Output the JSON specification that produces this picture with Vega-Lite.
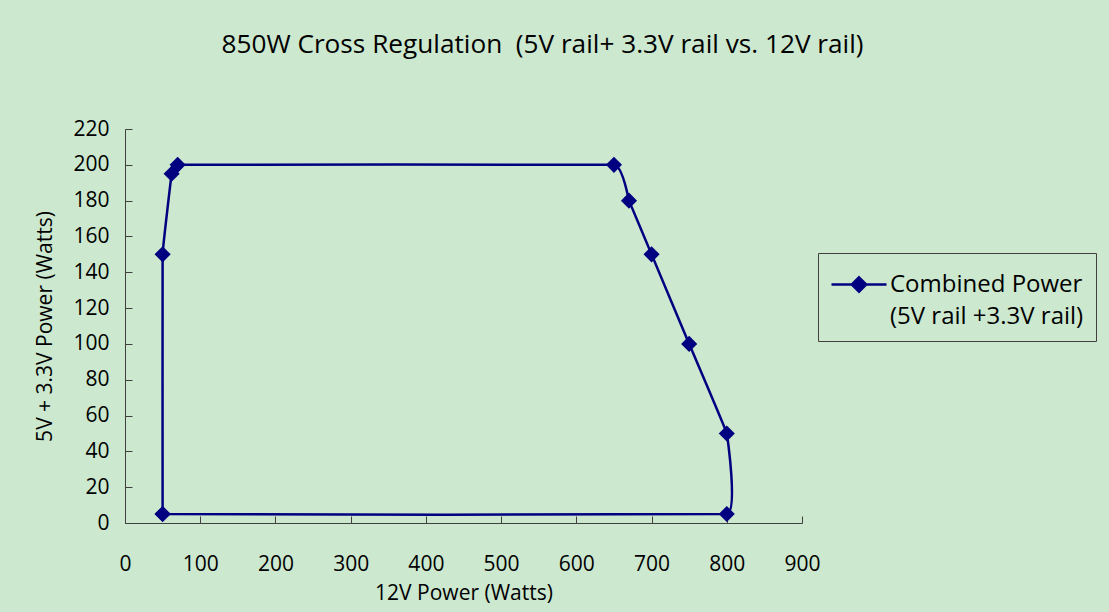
{
  "$schema": "https://vega.github.io/schema/vega-lite/v6.json",
  "width": 677,
  "height": 394,
  "autosize": "none",
  "padding": {"left": 125, "top": 129, "right": 307, "bottom": 89},
  "background": "#CCE8CF",
  "title": {
    "text": "850W Cross Regulation \u00a0(5V rail+ 3.3V rail vs. 12V rail)",
    "font": "Open Sans",
    "fontSize": 26.2,
    "fontWeight": "normal",
    "color": "#000000",
    "anchor": "middle",
    "baseline": "alphabetic",
    "dx": 79,
    "offset": 39
  },
  "data": {
    "values": [
      {"i": 1, "w12": 50, "w5": 5, "series": "Combined Power\n(5V rail +3.3V rail)"},
      {"i": 2, "w12": 800, "w5": 5, "series": "Combined Power\n(5V rail +3.3V rail)"},
      {"i": 3, "w12": 800, "w5": 50, "series": "Combined Power\n(5V rail +3.3V rail)"},
      {"i": 4, "w12": 750, "w5": 100, "series": "Combined Power\n(5V rail +3.3V rail)"},
      {"i": 5, "w12": 700, "w5": 150, "series": "Combined Power\n(5V rail +3.3V rail)"},
      {"i": 6, "w12": 670, "w5": 180, "series": "Combined Power\n(5V rail +3.3V rail)"},
      {"i": 7, "w12": 650, "w5": 200, "series": "Combined Power\n(5V rail +3.3V rail)"},
      {"i": 8, "w12": 70, "w5": 200, "series": "Combined Power\n(5V rail +3.3V rail)"},
      {"i": 9, "w12": 62, "w5": 195, "series": "Combined Power\n(5V rail +3.3V rail)"},
      {"i": 10, "w12": 50, "w5": 150, "series": "Combined Power\n(5V rail +3.3V rail)"},
      {"i": 11, "w12": 50, "w5": 5, "series": "Combined Power\n(5V rail +3.3V rail)"}
    ]
  },
  "encoding": {
    "x": {
      "field": "w12",
      "type": "quantitative",
      "scale": {"domain": [0, 900], "nice": false, "zero": false},
      "axis": {
        "title": "12V Power (Watts)",
        "values": [0, 100, 200, 300, 400, 500, 600, 700, 800, 900],
        "grid": false,
        "tickSize": -7,
        "tickColor": "#404040",
        "domainColor": "#404040",
        "labelPadding": 37,
        "labelFont": "Open Sans",
        "labelFontSize": 21,
        "labelColor": "#000000",
        "labelFlush": false,
        "labelOverlap": false,
        "labelBound": false,
        "titleFont": "Open Sans",
        "titleFontSize": 21,
        "titleFontWeight": "normal",
        "titleColor": "#000000",
        "titlePadding": 8,
        "encode": {"labels": {"update": {"dx": {"signal": "datum.value * 0.0303"}}}}
      }
    },
    "y": {
      "field": "w5",
      "type": "quantitative",
      "scale": {"domain": [0, 220], "nice": false},
      "axis": {
        "title": "5V + 3.3V Power (Watts)",
        "values": [0, 20, 40, 60, 80, 100, 120, 140, 160, 180, 200, 220],
        "grid": false,
        "tickSize": -7,
        "tickColor": "#404040",
        "domainColor": "#404040",
        "labelPadding": 23,
        "labelFont": "Open Sans",
        "labelFontSize": 21,
        "labelColor": "#000000",
        "labelFlush": false,
        "labelOverlap": false,
        "labelBound": false,
        "titleFont": "Open Sans",
        "titleFontSize": 21,
        "titleFontWeight": "normal",
        "titleColor": "#000000",
        "titlePadding": 17
      }
    },
    "color": {
      "field": "series",
      "type": "nominal",
      "scale": {"range": ["#000080"]},
      "legend": {
        "title": null,
        "orient": "none",
        "legendX": 693,
        "legendY": 124,
        "strokeColor": "#404040",
        "padding": 12,
        "symbolType": "M-1,0L2.056,0M0.528,-0.4L0.928,0L0.528,0.4L0.128,0Z",
        "symbolSize": 1296,
        "symbolStrokeWidth": 2.5,
        "symbolFillColor": "#000080",
        "symbolStrokeColor": "#000080",
        "labelFont": "Open Sans",
        "labelFontSize": 24,
        "labelColor": "#000000",
        "labelLimit": 400,
        "labelOffset": 21,
        "labelExpr": "split(datum.label, '\\n')",
        "encode": {"labels": {"update": {"lineHeight": {"value": 32}}}}
      }
    }
  },
  "layer": [
    {
      "mark": {"type": "line", "interpolate": "cardinal", "tension": 0.88, "strokeWidth": 2.5},
      "encoding": {"order": {"field": "i", "type": "quantitative"}}
    },
    {
      "mark": {"type": "point", "shape": "diamond", "filled": true, "size": 260, "opacity": 1}
    }
  ],
  "config": {
    "view": {"stroke": null}
  }
}
